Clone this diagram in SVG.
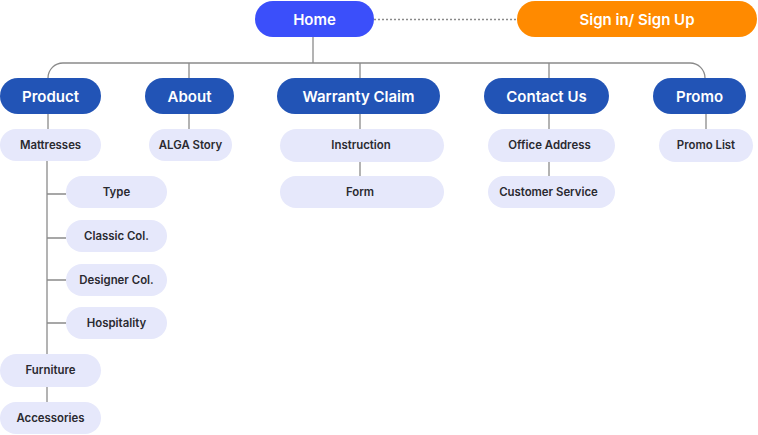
<svg xmlns="http://www.w3.org/2000/svg" width="758" height="435" viewBox="0 0 758 435">
<style>
.main rect{fill:#2254b6}
.main text{fill:#fff;font-family:Inter,"Liberation Sans",sans-serif;font-size:15px;font-weight:600;text-anchor:middle;dominant-baseline:central}
.sub rect{fill:#e6e8fb}
.sub text{fill:#2a2a30;font-family:Inter,"Liberation Sans",sans-serif;font-size:11.4px;font-weight:600;text-anchor:middle;dominant-baseline:central}
.conn path{fill:none;stroke:#8a8a8a;stroke-width:1.3}
</style>
<rect width="758" height="435" fill="#fff"/>
<g class="conn">
<path d="M374 19.5H517" stroke-dasharray="2 2"/>
<path d="M313 37V63"/>
<path d="M48 78V78A15 15 0 0 1 63 63H690A15 15 0 0 1 705 78"/>
<path d="M189 63V78"/>
<path d="M360 63V78"/>
<path d="M549 63V78"/>
<path d="M48 114V129"/>
<path d="M189 114V129"/>
<path d="M360 114V129"/>
<path d="M549 114V129"/>
<path d="M706 114V129"/>
<path d="M360 162V176"/>
<path d="M549 162V176"/>
<path d="M47 161V354"/>
<path d="M47 194H66M47 238H66M47 280H66M47 323H66"/>
<path d="M47 387V402"/>
</g>
<g id="home" class="main"><rect x="255" y="1" width="119" height="36" rx="18" style="fill:#3b4ffa"/><text x="314.5" y="19.5">Home</text></g>
<g id="signin" class="main"><rect x="517" y="1" width="240" height="36" rx="18" style="fill:#ff8a00"/><text x="637" y="19.5">Sign in/ Sign Up</text></g>
<g id="product" class="main"><rect x="0" y="78" width="101" height="36" rx="18"/><text x="50.5" y="96">Product</text></g>
<g id="about" class="main"><rect x="145" y="78" width="89" height="36" rx="18"/><text x="189.5" y="96">About</text></g>
<g id="warranty" class="main"><rect x="277" y="78" width="163" height="36" rx="18"/><text x="358.5" y="96">Warranty Claim</text></g>
<g id="contact" class="main"><rect x="484" y="78" width="125" height="36" rx="18"/><text x="546.5" y="96">Contact Us</text></g>
<g id="promo" class="main"><rect x="653" y="78" width="93" height="36" rx="18"/><text x="699.5" y="96">Promo</text></g>
<g id="mattresses" class="sub"><rect x="0" y="129" width="101" height="32" rx="16"/><text x="50.5" y="144.5">Mattresses</text></g>
<g id="type" class="sub"><rect x="66" y="176" width="101" height="32" rx="16"/><text x="116.5" y="191.5">Type</text></g>
<g id="classic" class="sub"><rect x="66" y="220" width="101" height="32" rx="16"/><text x="116.5" y="235.5">Classic Col.</text></g>
<g id="designer" class="sub"><rect x="66" y="264" width="101" height="32" rx="16"/><text x="116.5" y="279.5">Designer Col.</text></g>
<g id="hospitality" class="sub"><rect x="66" y="307" width="101" height="32" rx="16"/><text x="116.5" y="322.5">Hospitality</text></g>
<g id="furniture" class="sub"><rect x="0" y="354" width="101" height="33" rx="16.5"/><text x="50.5" y="370">Furniture</text></g>
<g id="accessories" class="sub"><rect x="0" y="402" width="101" height="32" rx="16"/><text x="50.5" y="417.5">Accessories</text></g>
<g id="alga" class="sub"><rect x="149" y="129" width="83" height="32" rx="16"/><text x="190.5" y="144.5">ALGA Story</text></g>
<g id="instruction" class="sub"><rect x="280" y="129" width="164" height="33" rx="16.5"/><text x="361" y="144.5">Instruction</text></g>
<g id="form" class="sub"><rect x="280" y="176" width="164" height="32" rx="16"/><text x="360" y="191.5">Form</text></g>
<g id="office" class="sub"><rect x="488" y="129" width="127" height="33" rx="16.5"/><text x="549.5" y="144.5">Office Address</text></g>
<g id="customer" class="sub"><rect x="488" y="176" width="127" height="32" rx="16"/><text x="548.5" y="191.5">Customer Service</text></g>
<g id="promolist" class="sub"><rect x="659" y="129" width="94" height="33" rx="16.5"/><text x="706" y="144.5">Promo List</text></g>
</svg>
